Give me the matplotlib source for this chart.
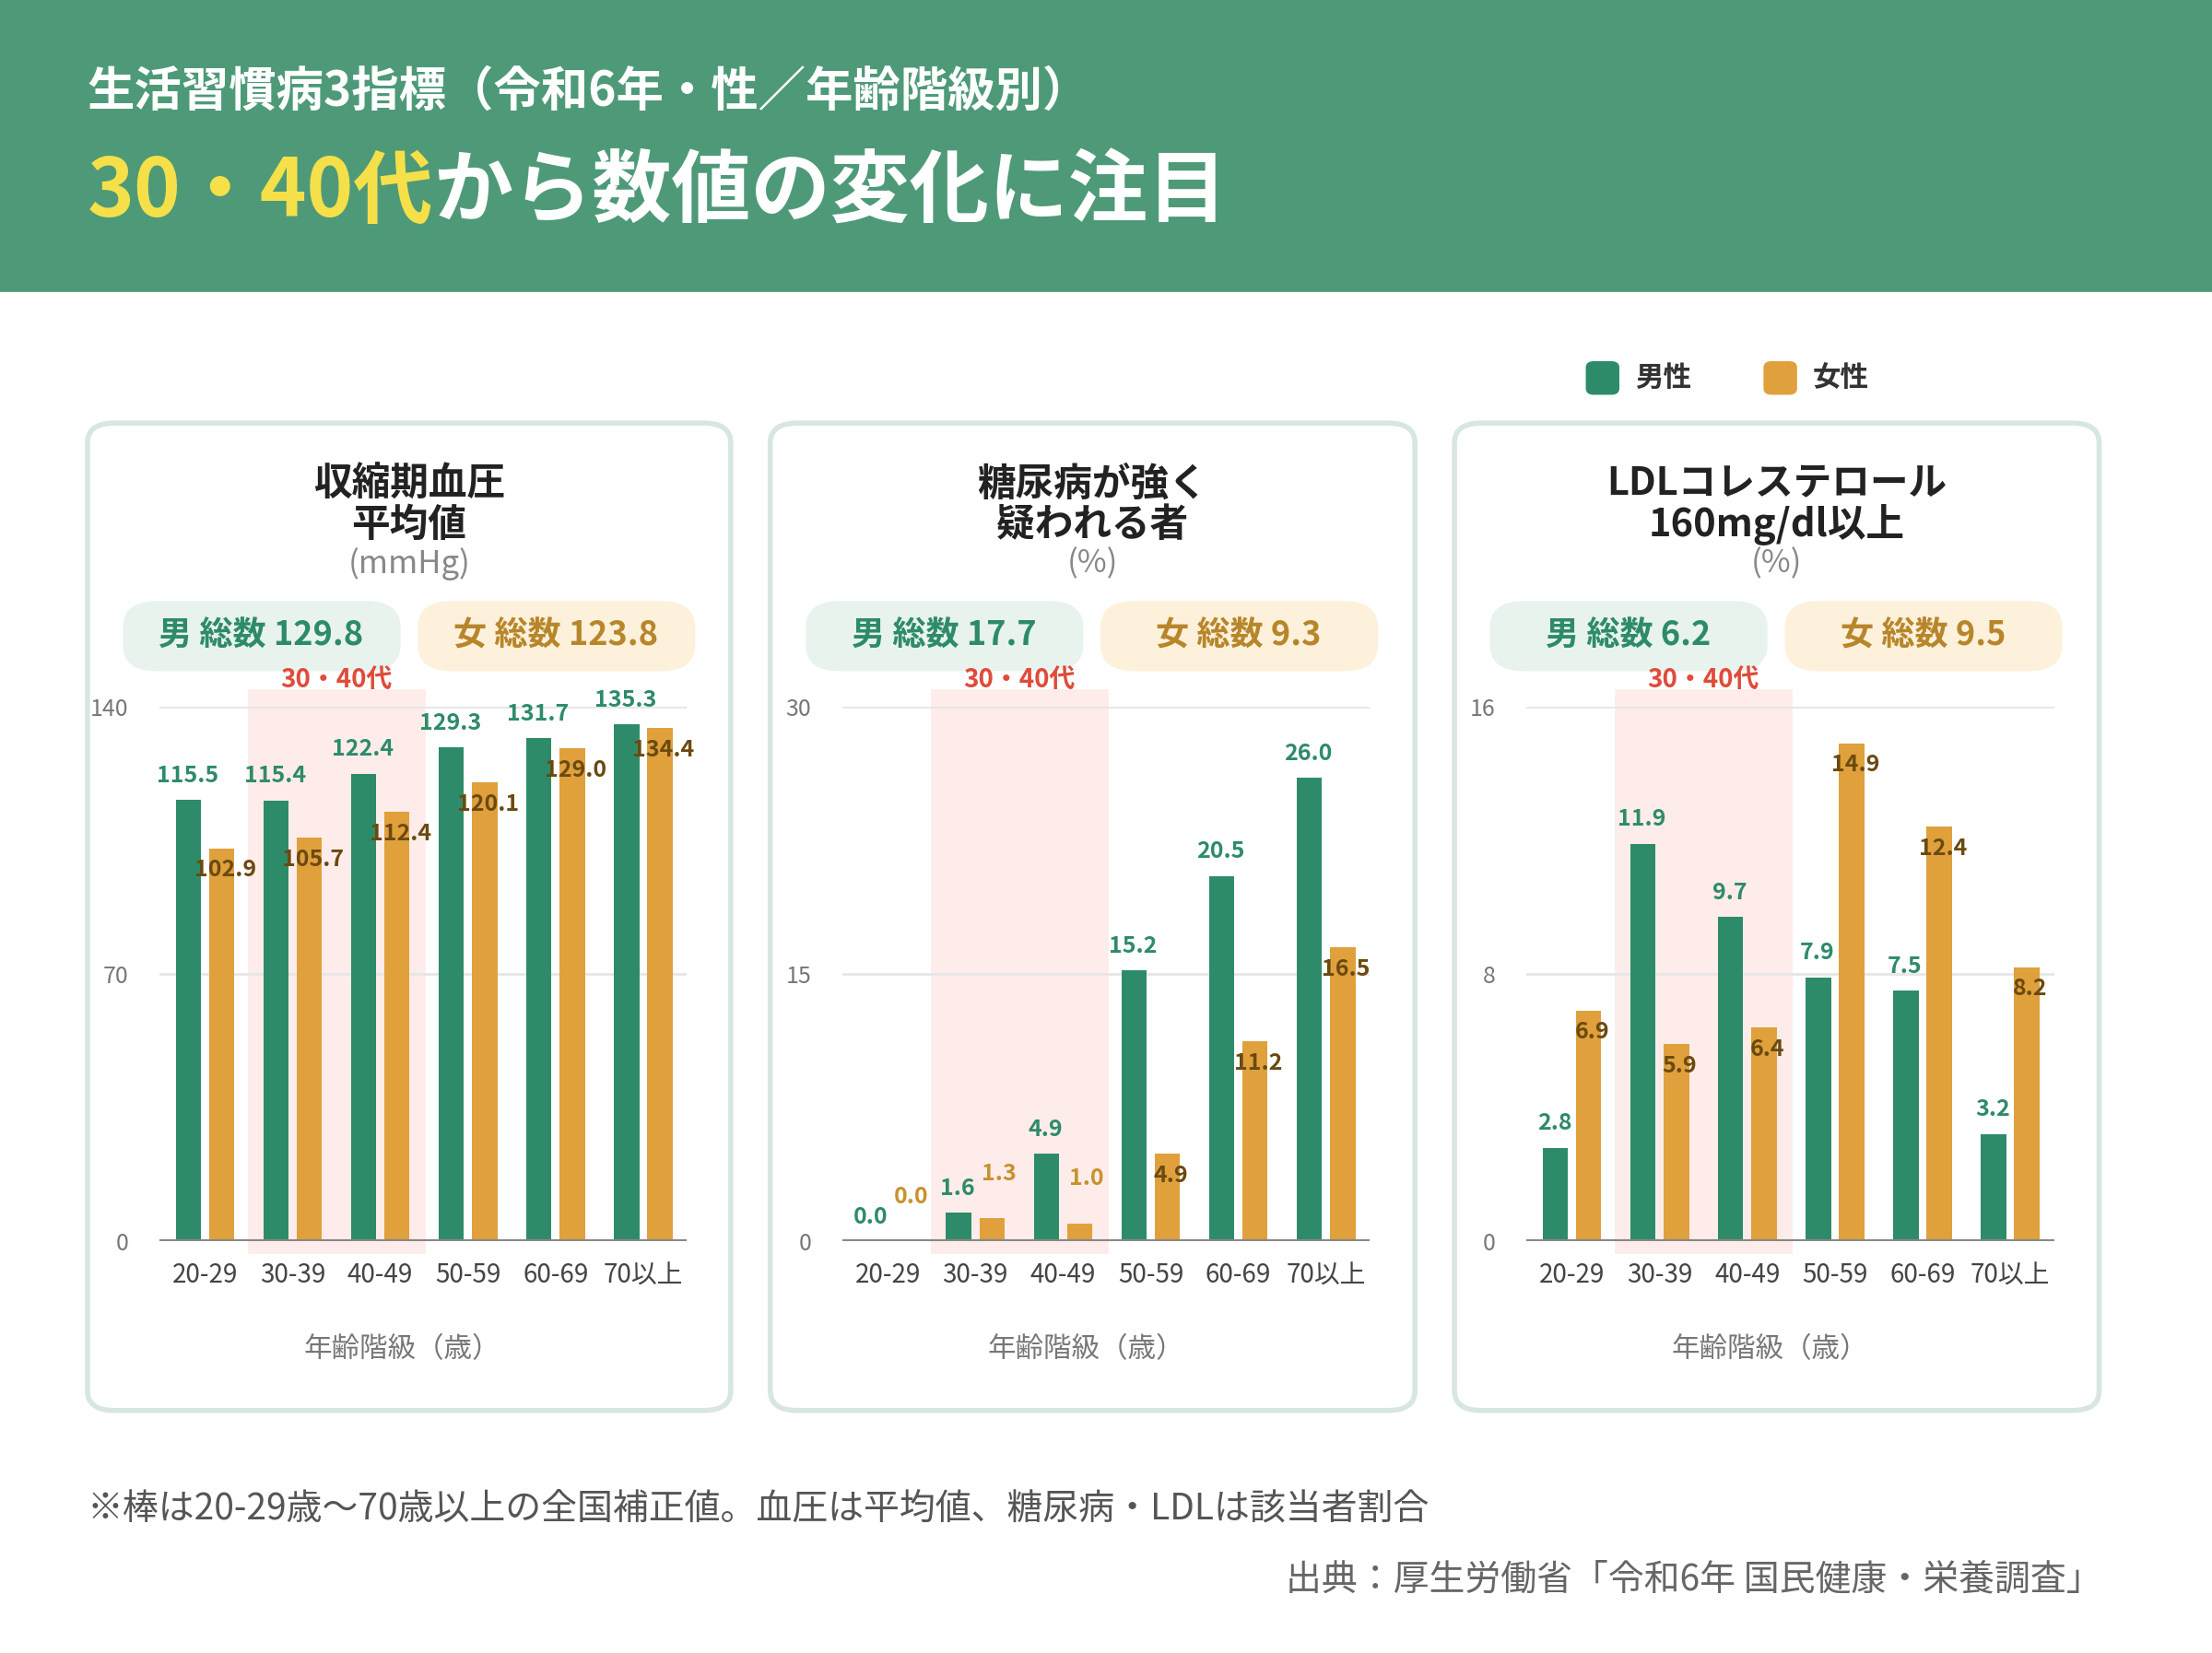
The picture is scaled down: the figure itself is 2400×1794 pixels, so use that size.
import matplotlib
matplotlib.use("Agg")
import matplotlib.pyplot as plt
from matplotlib.patches import FancyBboxPatch, Rectangle
import matplotlib.transforms as mtransforms

plt.rcParams['font.family'] = ['Noto Sans CJK JP', 'DejaVu Sans']

ages = ["20-29", "30-39", "40-49", "50-59", "60-69", "70以上"]
bp_male = [115.5, 115.4, 122.4, 129.3, 131.7, 135.3]
bp_female = [102.9, 105.7, 112.4, 120.1, 129.0, 134.4]
dm_male = [0.0, 1.6, 4.9, 15.2, 20.5, 26.0]
dm_female = [0.0, 1.3, 1.0, 4.9, 11.2, 16.5]
ldl_male = [2.8, 11.9, 9.7, 7.9, 7.5, 3.2]
ldl_female = [6.9, 5.9, 6.4, 14.9, 12.4, 8.2]

titles = ["収縮期血圧\n平均値", "糖尿病が強く\n疑われる者", "LDLコレステロール\n160mg/dl以上"]
units = ["(mmHg)", "(%)", "(%)"]
totals_m = ["男 総数 129.8", "男 総数 17.7", "男 総数 6.2"]
totals_f = ["女 総数 123.8", "女 総数 9.3", "女 総数 9.5"]
yticks = [[0, 70, 140], [0, 15, 30], [0, 8, 16]]

GREEN = "#2E8B6A"
ORANGE = "#E0A03C"
HEAD = "#4E9A78"

W, H = 1568, 1172
fig = plt.figure(figsize=(12, 8.97), dpi=200)
fig.patch.set_facecolor("white")

def fx(x): return x / W
def fy(y): return 1 - y / H

# header
fig.add_artist(Rectangle((0, fy(206)), 1, 206 / H, transform=fig.transFigure,
                         color=HEAD, zorder=0))
fig.text(fx(62), fy(65), "生活習慣病3指標（令和6年・性／年齢階級別）", color="white",
         fontsize=18.5, fontweight="bold", va="center")
t1 = fig.text(fx(62), fy(137), "30・40代", color="#F5E04A", fontsize=31,
              fontweight="bold", va="center")
fig.canvas.draw()
bb = t1.get_window_extent(fig.canvas.get_renderer())
fig.text(bb.x1 / fig.bbox.width, fy(137), "から数値の変化に注目", color="white",
         fontsize=31, fontweight="bold", va="center")

# legend
for lx, lab, c in [(1125, "男性", GREEN), (1251, "女性", ORANGE)]:
    fig.add_artist(FancyBboxPatch((fx(lx), fy(279)), fx(22), 22 / H,
                                  boxstyle="round,pad=0,rounding_size=0.003",
                                  transform=fig.transFigure, color=c))
    fig.text(fx(lx + 34), fy(268), lab, fontsize=11, fontweight="bold",
             color="#333333", va="center")

panels = [(62, 518), (546, 1003), (1031, 1488)]
data = [(bp_male, bp_female), (dm_male, dm_female), (ldl_male, ldl_female)]

for i, (px0, px1) in enumerate(panels):
    fig.add_artist(FancyBboxPatch((fx(px0), fy(1000)), fx(px1 - px0), 700 / H,
                                  boxstyle="round,pad=0,rounding_size=0.012",
                                  transform=fig.transFigure, facecolor="white",
                                  edgecolor="#D8E6E0", linewidth=2, zorder=1))
    cx = (px0 + px1) / 2
    fig.text(fx(cx), fy(358), titles[i], ha="center", va="center", fontsize=15,
             fontweight="bold", color="#222222", linespacing=1.05, zorder=3)
    fig.text(fx(cx), fy(400), units[i], ha="center", va="center", fontsize=12.5,
             color="#888888", zorder=3)
    # pills
    for (bx, txt, fc, tc) in [(px0 + 26, totals_m[i], "#E8F3EE", GREEN),
                              (px0 + 235, totals_f[i], "#FDF1DC", "#B8862A")]:
        fig.add_artist(FancyBboxPatch((fx(bx), fy(475)), fx(195), 48 / H,
                                      boxstyle="round,pad=0,rounding_size=0.015",
                                      transform=fig.transFigure, color=fc, zorder=2))
        fig.text(fx(bx + 97), fy(451), txt, ha="center", va="center", fontsize=13,
                 fontweight="bold", color=tc, zorder=3)

    ax = fig.add_axes([fx(px0 + 51), fy(880), fx(374), 379 / H], zorder=4)
    ax.patch.set_alpha(0)
    male, female = data[i]
    ymax = yticks[i][-1]
    xs = list(range(len(ages)))
    trans = mtransforms.blended_transform_factory(ax.transData, ax.transAxes)
    ax.add_patch(Rectangle((0.5, -0.02), 2.0, 1.05, transform=trans,
                           color="#FDECEA", clip_on=False, zorder=0))
    ax.text(1.5, 1.05, "30・40代", transform=trans, ha="center", va="center",
            fontsize=10, fontweight="bold", color="#E04B3A")
    for y in yticks[i][1:]:
        ax.axhline(y, color="#E6E6E6", lw=1, zorder=1)
    ax.axhline(0, color="#888888", lw=1.5, zorder=3)
    ax.bar([x - 0.19 for x in xs], male, width=0.29, color=GREEN, zorder=2)
    ax.bar([x + 0.19 for x in xs], female, width=0.29, color=ORANGE, zorder=2)
    off = ymax * 0.025
    for x, v in zip(xs, male):
        ax.text(x - 0.2, v + off, f"{v:.1f}", ha="center", va="bottom",
                fontsize=9, fontweight="bold", color=GREEN, clip_on=False)
    for x, v in zip(xs, female):
        if v < ymax * 0.1:
            ax.text(x + 0.27, v + off * 2.5, f"{v:.1f}", ha="center", va="bottom",
                    fontsize=9, fontweight="bold", color="#C8922E", clip_on=False)
        else:
            ax.text(x + 0.23, v - off * 0.8, f"{v:.1f}", ha="center", va="top",
                    fontsize=9, fontweight="bold", color="#6B4A10", clip_on=False,
                    zorder=5)
    ax.set_xlim(-0.52, 5.5)
    ax.set_ylim(0, ymax)
    ax.set_yticks(yticks[i])
    ax.set_xticks(xs)
    ax.set_xticklabels(ages)
    ax.tick_params(axis="x", length=0, labelsize=10, colors="#444444", pad=8)
    ax.tick_params(axis="y", length=0, labelsize=9, colors="#777777", pad=12)
    for s in ax.spines.values():
        s.set_visible(False)
    fig.text(fx(cx - 5), fy(957), "年齢階級（歳）", ha="center", va="center",
             fontsize=11, color="#777777")

fig.text(fx(62), fy(1070), "※棒は20-29歳〜70歳以上の全国補正値。血圧は平均値、糖尿病・LDLは該当者割合",
         fontsize=14, color="#555555", va="center")
fig.text(fx(1490), fy(1120), "出典：厚生労働省「令和6年 国民健康・栄養調査」",
         fontsize=14, color="#666666", va="center", ha="right")

fig.savefig("out.png", dpi=200)
